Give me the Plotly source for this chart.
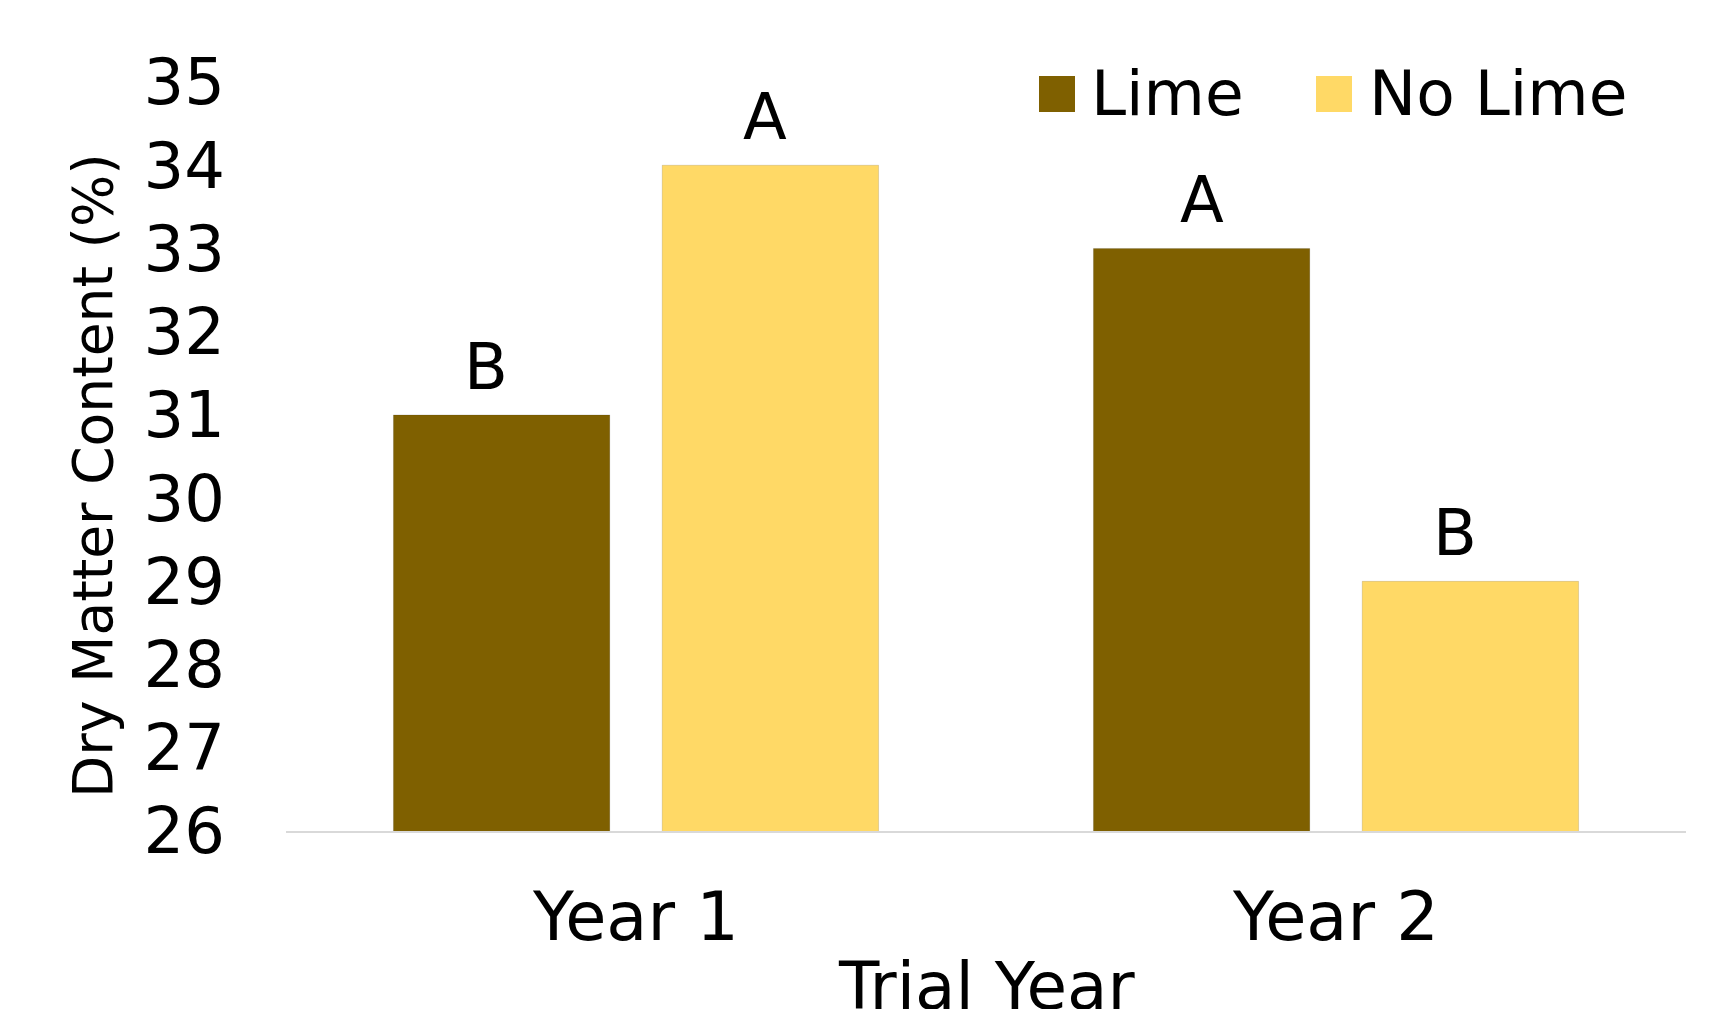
import plotly.graph_objects as go

categories = ["Year 1", "Year 2"]
lime_values = [31, 33]
nolime_values = [34, 29]
lime_letters = ["B", "A"]
nolime_letters = ["A", "B"]
series_names = ["Lime", "No Lime"]
y_ticks = [26, 27, 28, 29, 30, 31, 32, 33, 34, 35]

LIME_COLOR = "#7F6000"
NOLIME_COLOR = "#FFD966"
FONT = "DejaVu Sans"

W, H = 1712, 1009
L, R, T, B = 286, 26, 82, 178
PW, PH = W - L - R, H - T - B

def px(xp):
    return (xp - L) / PW

def py(yp):
    return (H - B - yp) / PH

BARGAP = 0.232
x_idx = list(range(len(categories)))

fig = go.Figure()
fig.add_trace(go.Bar(x=x_idx, y=lime_values, name=series_names[0],
                     marker=dict(color=LIME_COLOR, line=dict(color="rgba(0,0,0,0.12)", width=1)),
                     showlegend=False))
fig.add_trace(go.Bar(x=x_idx, y=nolime_values, name=series_names[1],
                     marker=dict(color=NOLIME_COLOR, line=dict(color="rgba(0,0,0,0.12)", width=1)),
                     showlegend=False))

annotations = []
off = (1 - BARGAP) / 4
# small horizontal nudges of the letter labels (style only)
label_nudge = {(0, -1): -16, (0, 1): -5, (1, -1): 0, (1, 1): -15}
for i in x_idx:
    for vals, letters, sgn in ((lime_values, lime_letters, -1), (nolime_values, nolime_letters, 1)):
        annotations.append(dict(x=i + sgn * off, y=vals[i], xref="x", yref="y",
                                text=letters[i], showarrow=False, yanchor="bottom",
                                yshift=9, xshift=label_nudge[(i, sgn)],
                                font=dict(family=FONT, size=64, color="black")))

# y-axis title
annotations.append(dict(x=px(93), y=py(476), xref="paper", yref="paper",
                        text="Dry Matter Content (%)", textangle=-90, showarrow=False,
                        xanchor="center", yanchor="middle",
                        font=dict(family=FONT, size=55, color="black")))
# x-axis title
annotations.append(dict(x=0.5, y=py(946), xref="paper", yref="paper",
                        text="Trial Year", showarrow=False, xanchor="center", yanchor="top",
                        font=dict(family=FONT, size=66, color="black")))

# custom legend
shapes = []
legend_items = [(series_names[0], LIME_COLOR, 1039, 1089), (series_names[1], NOLIME_COLOR, 1316, 1367)]
for name, color, sx, tx in legend_items:
    shapes.append(dict(type="rect", xref="paper", yref="paper",
                       x0=px(sx), x1=px(sx + 36), y0=py(112), y1=py(76),
                       fillcolor=color, line=dict(width=0)))
    annotations.append(dict(x=px(tx), y=py(94), xref="paper", yref="paper", text=name,
                            showarrow=False, xanchor="left", yanchor="middle",
                            font=dict(family=FONT, size=63, color="black")))

fig.update_layout(
    width=W, height=H,
    margin=dict(l=L, r=R, t=T, b=B),
    paper_bgcolor="white", plot_bgcolor="white",
    barmode="group", bargap=BARGAP, bargroupgap=0.195,
    font=dict(family=FONT, size=64, color="black"),
    annotations=annotations, shapes=shapes,
    showlegend=False,
)
fig.update_xaxes(tickmode="array", tickvals=x_idx, ticktext=categories, range=[-0.5, 1.5],
                 showline=True, linecolor="#D9D9D9", linewidth=2, showgrid=False,
                 zeroline=False, ticks="", ticklabelstandoff=27,
                 tickfont=dict(family=FONT, size=67, color="black"))
fig.update_yaxes(range=[26, 35], tickmode="array", tickvals=y_ticks, showgrid=False,
                 showline=False, zeroline=False, ticks="", ticklabelstandoff=60,
                 tickfont=dict(family=FONT, size=64, color="black"))

fig.write_html("out.html")
